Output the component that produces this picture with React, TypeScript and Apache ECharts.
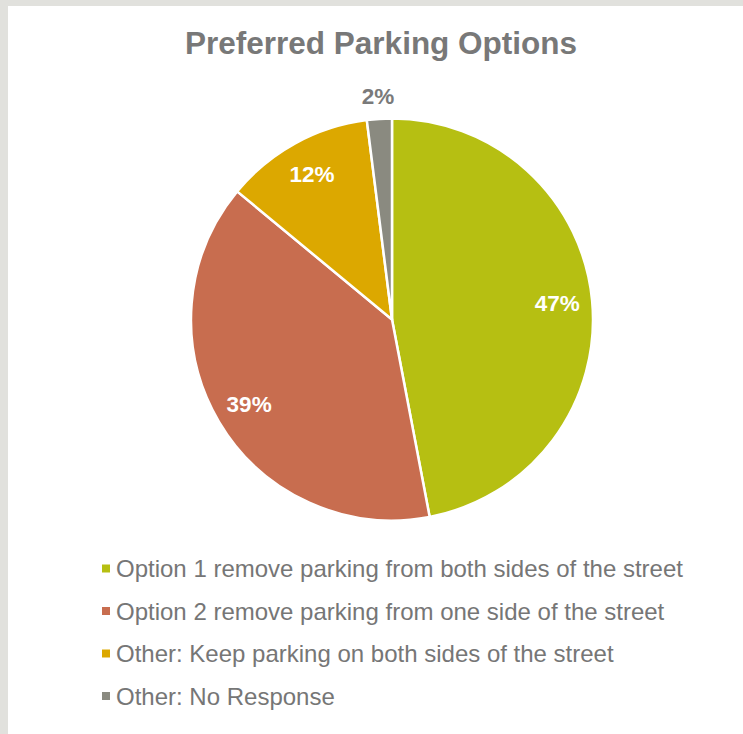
import React, { useEffect, useRef } from "react";
import * as echarts from "echarts";

const categories = [
  "Option 1 remove parking from both sides of the street",
  "Option 2 remove parking from one side of the street",
  "Other: Keep parking on both sides of the street",
  "Other: No Response",
];
const values = [47, 39, 12, 2];
const colors = ["#B6BF12", "#C86D4F", "#DCA800", "#8A8A80"];
const insideLabelFlags = [true, true, true, false];

const FONT = "'Liberation Sans', Arial, sans-serif";

export default function App() {
  const ref = useRef<HTMLDivElement>(null);

  useEffect(() => {
    document.body.style.margin = "0";
    if (!ref.current) return;
    const chart = echarts.init(ref.current, undefined, { renderer: "svg" });
    const center = [384, 313.5];
    const R = 201;

    const mainData = categories.map((name, i) => ({
      name,
      value: values[i],
      itemStyle: { color: colors[i] },
    }));

    const overlayData = (show: boolean[]) =>
      categories.map((name, i) => ({
        name,
        value: values[i],
        itemStyle: { color: "rgba(0,0,0,0)", borderWidth: 0 },
        label: { show: show[i] },
      }));

    chart.setOption({
      animation: false,
      backgroundColor: "#ffffff",
      title: {
        text: "Preferred Parking Options",
        left: 172,
        top: 16,
        textStyle: {
          fontFamily: FONT,
          fontSize: 31.5,
          fontWeight: "bold",
          color: "#787878",
        },
      },
      legend: {
        orient: "vertical",
        left: 92,
        top: 550.5,
        padding: 0,
        itemWidth: 10,
        itemHeight: 10,
        itemGap: 18.5,
        icon: "rect",
        data: categories,
        selectedMode: false,
        textStyle: {
          fontFamily: FONT,
          fontSize: 24,
          lineHeight: 24,
          color: "#767676",
        },
      },
      series: [
        {
          type: "pie",
          center,
          radius: R,
          startAngle: 90,
          clockwise: true,
          silent: true,
          label: { show: false },
          labelLine: { show: false },
          itemStyle: { borderColor: "#ffffff", borderWidth: 2.5 },
          data: mainData,
        },
        {
          type: "pie",
          center,
          radius: [125, R],
          startAngle: 90,
          silent: true,
          legendHoverLink: false,
          avoidLabelOverlap: false,
          label: {
            show: true,
            position: "inside",
            formatter: "{c}%",
            fontFamily: FONT,
            fontSize: 22.5,
            fontWeight: "bold",
            color: "#ffffff",
          },
          labelLine: { show: false },
          data: overlayData(insideLabelFlags),
        },
        {
          type: "pie",
          center,
          radius: [R, 239],
          startAngle: 90,
          silent: true,
          legendHoverLink: false,
          avoidLabelOverlap: false,
          label: {
            show: true,
            position: "inside",
            formatter: "{c}%",
            fontFamily: FONT,
            fontSize: 22.5,
            fontWeight: "bold",
            color: "#7A7A7A",
          },
          labelLine: { show: false },
          data: overlayData(insideLabelFlags.map((f) => !f)),
        },
      ],
    });
    return () => chart.dispose();
  }, []);

  return (
    <div style={{ width: 743, height: 734, background: "#E1E1DD", position: "relative" }}>
      <div
        ref={ref}
        style={{ position: "absolute", left: 8, top: 6, width: 735, height: 728 }}
      />
    </div>
  );
}
